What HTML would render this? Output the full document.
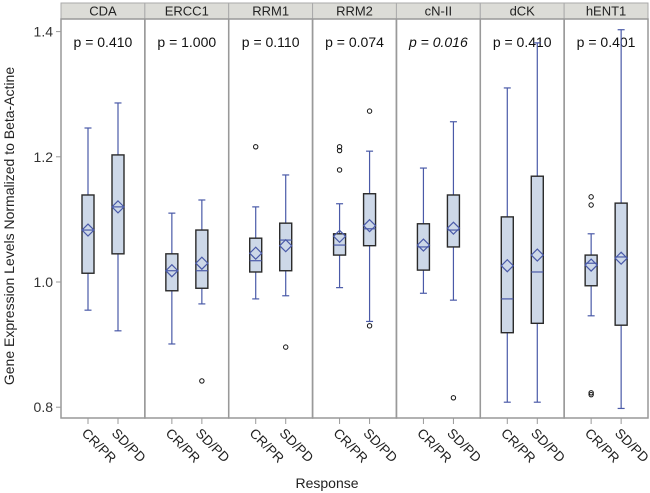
<!DOCTYPE html>
<html><head><meta charset="utf-8"><style>
body{margin:0;background:#fff;}
svg{display:block;font-family:"Liberation Sans",sans-serif;}
</style></head><body>
<svg id="chart" width="650" height="493" viewBox="0 0 650 493"></svg>
<script>
const genes = ["CDA","ERCC1","RRM1","RRM2","cN-II","dCK","hENT1"];
const pvals = ["p = 0.410","p = 1.000","p = 0.110","p = 0.074","p = 0.016","p = 0.410","p = 0.401"];
const groups = ["CR/PR","SD/PD"];
// [low whisker, q1, median, q3, high whisker, mean]
const crStats = [
 [0.955,1.014,1.083,1.139,1.246,1.083],
 [0.901,0.986,1.018,1.045,1.110,1.018],
 [0.973,1.016,1.034,1.070,1.120,1.046],
 [0.991,1.043,1.059,1.077,1.125,1.073],
 [0.982,1.019,1.056,1.093,1.182,1.059],
 [0.808,0.919,0.973,1.104,1.310,1.026],
 [0.946,0.994,1.030,1.043,1.077,1.027]
];
const sdStats = [
 [0.922,1.045,1.120,1.203,1.286,1.120],
 [0.965,0.990,1.018,1.083,1.131,1.030],
 [0.978,1.018,1.067,1.094,1.171,1.058],
 [0.937,1.058,1.085,1.141,1.209,1.090],
 [0.971,1.056,1.083,1.139,1.256,1.086],
 [0.808,0.934,1.016,1.169,1.382,1.043],
 [0.798,0.931,1.040,1.126,1.403,1.038]
];
const crOutliers = [[],[],[1.216],[1.210,1.216,1.179],[],[],[1.136,1.123,0.820,0.823]];
const sdOutliers = [[],[0.842],[0.896],[1.273,0.930],[0.815],[],[]];
const yTicks = [0.8,1.0,1.2,1.4];

const NS="http://www.w3.org/2000/svg";
const svgEl=document.getElementById('chart');
function mk(tag,attrs,parent){const e=document.createElementNS(NS,tag);for(const k in attrs)e.setAttribute(k,attrs[k]);(parent||svgEl).appendChild(e);return e;}
const PL=61,PR=648,PT=19,PB=418,ST=3;
const pw=(PR-PL)/genes.length;
function yS(v){return 282-(v-1)*626;}
function px(i){return PL+i*pw;}

yTicks.forEach(t=>{
  const l=mk('line',{x1:PL-5,x2:PL,y1:yS(t),y2:yS(t),stroke:'#999'});
  
  
  const tx=mk('text',{x:PL-8,y:yS(t)+5,'text-anchor':'end','font-size':14,fill:'#333'});
  tx.textContent=t.toFixed(1);
  
  
});
const yt=mk('text',{x:0,y:0,'font-size':14,fill:'#222','text-anchor':'middle',transform:'translate(14,226) rotate(-90)'});
yt.textContent='Gene Expression Levels Normalized to Beta-Actine';


const xt=mk('text',{x:327,y:488,'font-size':14,fill:'#222','text-anchor':'middle'});
xt.textContent='Response';



genes.forEach((g,i)=>{
  const x0=px(i);
  const grp=mk('g',{});
  
  
  const strip=mk('rect',{x:x0,y:ST,width:pw,height:PT-ST,fill:'#dcdcd7',stroke:'#aaa'},grp);
  
  
  const st=mk('text',{x:x0+pw/2,y:ST+12.5,'text-anchor':'middle','font-size':13,fill:'#222'},grp);
  st.textContent=g;
  
  
  const fr=mk('rect',{x:x0,y:PT,width:pw,height:PB-PT,fill:'none',stroke:'#999','stroke-width':1.5},grp);
  
  
  const pt=mk('text',{x:x0+pw/2,y:47,'text-anchor':'middle','font-size':14,fill:'#111','font-style':i===4?'italic':'normal'},grp);
  pt.textContent=pvals[i];
  
  
  [crStats[i],sdStats[i]].forEach((s,j)=>{
    const cx=x0+27+j*30;
    const outs=j===0?crOutliers[i]:sdOutliers[i];
    const tk=mk('line',{x1:cx,x2:cx,y1:PB,y2:PB+6,stroke:'#999'},grp);
    
    
    const tl=mk('text',{x:0,y:0,'font-size':13.5,fill:'#222',transform:`translate(${cx-7},${PB+16}) rotate(45)`},grp);
    tl.textContent=groups[j];
    
    
    const w=mk('line',{x1:cx,x2:cx,y1:yS(s[0]),y2:yS(s[4]),stroke:'#4a5aa8','stroke-width':1.2},grp);
    
    
    [s[0],s[4]].forEach(v=>{
      const c=mk('line',{x1:cx-3.5,x2:cx+3.5,y1:yS(v),y2:yS(v),stroke:'#4a5aa8','stroke-width':1.2},grp);
      
      
    });
    const b=mk('rect',{x:cx-6,y:yS(s[3]),width:12,height:yS(s[1])-yS(s[3]),fill:'#cdd8e8',stroke:'#2a2a2a','stroke-width':1.4},grp);
    
    
    const m=mk('line',{x1:cx-6,x2:cx+6,y1:yS(s[2]),y2:yS(s[2]),stroke:'#4a5aa8','stroke-width':1.2},grp);
    
    
    const my=yS(s[5]);
    const d=mk('polygon',{points:`${cx},${my-6} ${cx+6},${my} ${cx},${my+6} ${cx-6},${my}`,fill:'none',stroke:'#4a5aa8','stroke-width':1.2},grp);
    
    
    outs.forEach(v=>{
      const o=mk('circle',{cx:cx,cy:yS(v),r:2.2,fill:'none',stroke:'#111','stroke-width':1},grp);
      
      
    });
  });
});
</script>
</body></html>
